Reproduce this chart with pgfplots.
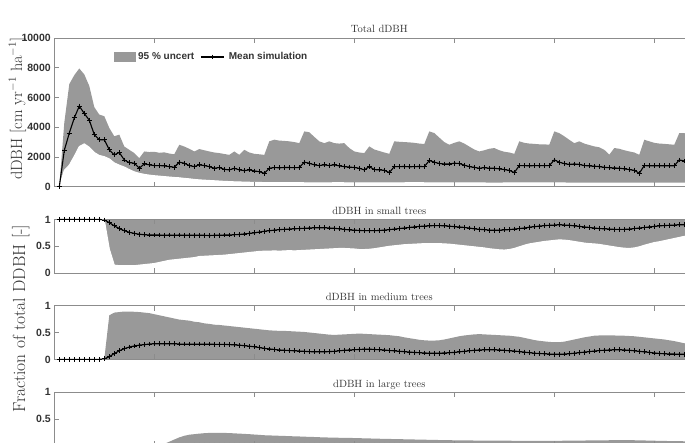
\documentclass[border=0pt]{standalone}
\usepackage{pgfplots}
\pgfplotsset{compat=1.18}
\usepackage{pgfplotstable}
\usepackage{fontspec}
\newfontfamily\lsans{Liberation Sans}
\definecolor{bandgray}{gray}{0.6}
\definecolor{axgray}{gray}{0.55}
\definecolor{txtgray}{gray}{0.2}

% Total dDBH: mean simulation and 95% band
\pgfplotstableread{
x mean lo hi
1 0 0 0
2 2440 1100 4300
3 3610 1450 6900
4 4630 2050 7500
5 5420 2700 7950
6 4920 2880 7550
7 4470 2650 6770
8 3500 2300 5350
9 3160 2100 4850
10 3160 2020 4740
11 2480 1870 3950
12 2140 1600 3390
13 2300 1450 3500
14 1800 1320 2700
15 1620 1150 2480
16 1580 1000 2260
17 1240 900 1920
18 1535 830 2370
19 1470 780 2330
20 1420 740 2350
21 1420 710 2280
22 1400 680 2310
23 1350 650 2230
24 1310 620 2180
25 1650 600 2820
26 1580 560 2700
27 1420 530 2550
28 1350 490 2370
29 1470 460 2530
30 1420 440 2450
31 1350 420 2370
32 1240 400 2300
33 1290 380 2260
34 1170 360 2200
35 1130 345 2140
36 1240 330 2370
37 1130 320 2140
38 1080 310 2480
39 1130 300 2300
40 1060 290 2210
41 1010 285 2180
42 900 280 2140
43 1240 280 3050
44 1290 275 3160
45 1270 275 3100
46 1290 270 3080
47 1290 270 3050
48 1280 270 3000
49 1290 270 2930
50 1650 265 3720
51 1580 265 3660
52 1470 265 3350
53 1420 260 3050
54 1470 260 2930
55 1420 260 3050
56 1470 270 2930
57 1400 270 2900
58 1350 265 2930
59 1320 260 2600
60 1290 255 2370
61 1240 255 2300
62 1130 250 2260
63 1350 250 2710
64 1150 250 2500
65 1130 255 2400
66 1100 260 2300
67 950 260 2210
68 1350 260 3050
69 1350 265 3020
70 1360 265 3000
71 1340 270 2980
72 1350 270 2950
73 1360 270 2900
74 1350 265 2870
75 1760 265 3720
76 1650 260 3610
77 1560 255 3300
78 1530 250 3000
79 1530 250 2820
80 1580 250 2950
81 1560 255 3050
82 1450 260 2900
83 1350 260 2700
84 1300 255 2500
85 1240 250 2370
86 1280 250 2450
87 1240 245 2550
88 1240 245 2600
89 1200 245 2450
90 1150 250 2350
91 1100 250 2300
92 950 250 2210
93 1420 255 3050
94 1420 260 2950
95 1400 260 2900
96 1420 260 2880
97 1410 255 2850
98 1420 255 2850
99 1420 255 2820
100 1800 255 3720
101 1650 250 3600
102 1550 250 3390
103 1500 245 3150
104 1530 245 2930
105 1500 245 3050
106 1420 245 2900
107 1400 245 2800
108 1380 240 2710
109 1355 240 2650
110 1300 240 2480
111 1280 240 2150
112 1260 240 2600
113 1245 240 2550
114 1200 240 2450
115 1150 240 2370
116 1100 240 2300
117 905 235 2145
118 1420 235 3160
119 1400 235 3050
120 1400 235 2950
121 1410 235 2900
122 1400 235 2880
123 1400 235 2850
124 1410 235 2820
125 1800 235 3610
126 1730 235 3610
127 1650 235 3400
128 1600 235 3200
129 1550 235 3000
130 1500 235 2950
}\totdat

% Fractions of total DDBH per size class: mean and band limits
\pgfplotstableread{
x smean slo shi mmean mhi lmean lhi
1 1 1 1 0 0 0 0
2 1 1 1 0 0 0 0
3 1 1 1 0 0 0 0
4 1 1 1 0 0 0 0
5 1 1 1 0 0 0 0
6 1 1 1 0 0 0 0
7 1 1 1 0 0 0 0
8 1 1 1 0 0 0 0
9 1 1 1 0 0 0 0
10 0.99 0.99 1 0.01 0.01 0 0
11 0.94 0.45 1 0.05 0.82 0 0
12 0.88 0.15 1 0.11 0.87 0 0
13 0.83 0.14 1 0.16 0.88 0 0
14 0.79 0.14 1 0.20 0.89 0 0
15 0.76 0.14 1 0.23 0.89 0 0
16 0.74 0.14 1 0.25 0.885 0 0
17 0.725 0.15 1 0.265 0.88 0 0
18 0.715 0.16 1 0.275 0.87 0 0
19 0.71 0.17 1 0.285 0.86 0 0
20 0.71 0.18 1 0.29 0.84 0 0
21 0.71 0.20 1 0.29 0.82 0 0
22 0.705 0.22 1 0.29 0.80 0.003 0.04
23 0.71 0.24 1 0.29 0.78 0.005 0.08
24 0.705 0.25 1 0.29 0.76 0.006 0.12
25 0.71 0.26 1 0.285 0.74 0.008 0.16
26 0.705 0.27 1 0.285 0.73 0.01 0.19
27 0.705 0.28 1 0.285 0.72 0.01 0.21
28 0.705 0.29 1 0.285 0.70 0.012 0.22
29 0.705 0.31 1 0.285 0.69 0.012 0.23
30 0.705 0.315 1 0.285 0.67 0.013 0.238
31 0.70 0.32 1 0.285 0.66 0.014 0.243
32 0.705 0.325 1 0.28 0.645 0.015 0.245
33 0.705 0.33 1 0.28 0.64 0.015 0.245
34 0.71 0.335 1 0.28 0.63 0.015 0.243
35 0.71 0.345 0.99 0.275 0.62 0.015 0.24
36 0.715 0.355 0.99 0.27 0.61 0.015 0.235
37 0.72 0.365 0.99 0.265 0.60 0.015 0.23
38 0.73 0.375 0.99 0.255 0.59 0.015 0.225
39 0.74 0.385 0.985 0.245 0.58 0.015 0.22
40 0.75 0.395 0.985 0.235 0.57 0.015 0.213
41 0.765 0.405 0.985 0.22 0.56 0.015 0.207
42 0.78 0.41 0.985 0.205 0.55 0.015 0.20
43 0.79 0.41 0.985 0.195 0.54 0.015 0.197
44 0.80 0.415 0.985 0.185 0.535 0.015 0.193
45 0.81 0.41 0.985 0.175 0.53 0.015 0.19
46 0.815 0.415 0.985 0.17 0.53 0.015 0.187
47 0.82 0.42 0.985 0.165 0.525 0.015 0.183
48 0.825 0.415 0.985 0.16 0.52 0.015 0.18
49 0.83 0.42 0.985 0.155 0.515 0.015 0.177
50 0.835 0.425 0.985 0.15 0.51 0.015 0.173
51 0.84 0.43 0.985 0.145 0.50 0.015 0.17
52 0.845 0.435 0.985 0.14 0.49 0.015 0.167
53 0.845 0.44 0.985 0.14 0.48 0.015 0.163
54 0.845 0.445 0.985 0.14 0.47 0.015 0.16
55 0.84 0.45 0.985 0.145 0.46 0.015 0.157
56 0.835 0.455 0.99 0.15 0.455 0.015 0.155
57 0.825 0.46 0.99 0.16 0.46 0.015 0.153
58 0.815 0.46 0.99 0.17 0.465 0.015 0.151
59 0.805 0.455 0.99 0.175 0.47 0.015 0.15
60 0.80 0.45 0.99 0.18 0.475 0.015 0.148
61 0.795 0.44 0.99 0.185 0.48 0.015 0.145
62 0.79 0.44 0.99 0.19 0.475 0.015 0.143
63 0.79 0.445 0.99 0.19 0.47 0.015 0.14
64 0.79 0.455 0.99 0.185 0.465 0.015 0.138
65 0.795 0.47 0.99 0.18 0.46 0.015 0.135
66 0.80 0.485 0.99 0.175 0.455 0.015 0.133
67 0.81 0.50 0.99 0.165 0.45 0.015 0.131
68 0.82 0.51 0.99 0.16 0.44 0.015 0.129
69 0.83 0.52 0.99 0.15 0.43 0.015 0.127
70 0.84 0.53 0.99 0.145 0.41 0.015 0.125
71 0.85 0.535 0.99 0.135 0.395 0.012 0.123
72 0.86 0.54 0.99 0.13 0.38 0.01 0.121
73 0.87 0.545 0.99 0.125 0.365 0.01 0.119
74 0.875 0.55 0.99 0.12 0.355 0.01 0.117
75 0.88 0.55 0.99 0.115 0.35 0.01 0.115
76 0.885 0.55 0.99 0.115 0.35 0.01 0.113
77 0.885 0.55 0.99 0.115 0.355 0.01 0.111
78 0.88 0.545 0.99 0.12 0.37 0.01 0.11
79 0.875 0.54 0.99 0.125 0.39 0.01 0.108
80 0.865 0.53 0.99 0.13 0.41 0.01 0.106
81 0.86 0.52 0.99 0.14 0.43 0.01 0.105
82 0.85 0.51 0.99 0.15 0.445 0.01 0.104
83 0.84 0.50 0.99 0.16 0.455 0.01 0.103
84 0.825 0.49 0.99 0.17 0.465 0.01 0.102
85 0.815 0.48 0.99 0.175 0.47 0.01 0.101
86 0.81 0.47 0.99 0.18 0.465 0.01 0.10
87 0.80 0.455 0.99 0.18 0.46 0.01 0.10
88 0.80 0.445 0.99 0.18 0.455 0.01 0.10
89 0.80 0.435 0.99 0.175 0.45 0.01 0.10
90 0.805 0.43 0.99 0.17 0.445 0.01 0.10
91 0.81 0.44 0.99 0.16 0.44 0.01 0.098
92 0.82 0.46 0.99 0.155 0.43 0.01 0.097
93 0.83 0.49 0.99 0.145 0.42 0.01 0.096
94 0.84 0.52 0.99 0.135 0.40 0.01 0.095
95 0.855 0.545 0.99 0.125 0.38 0.01 0.095
96 0.865 0.56 0.99 0.115 0.36 0.01 0.095
97 0.875 0.575 0.99 0.11 0.345 0.01 0.095
98 0.885 0.59 0.99 0.105 0.335 0.01 0.095
99 0.89 0.60 0.99 0.10 0.325 0.01 0.095
100 0.895 0.61 0.99 0.095 0.32 0.01 0.096
101 0.90 0.62 0.99 0.095 0.32 0.01 0.097
102 0.895 0.615 0.99 0.10 0.33 0.01 0.098
103 0.89 0.605 0.99 0.105 0.35 0.01 0.099
104 0.88 0.59 0.99 0.115 0.37 0.01 0.10
105 0.87 0.575 0.99 0.125 0.39 0.01 0.101
106 0.86 0.56 0.99 0.135 0.41 0.01 0.102
107 0.85 0.55 0.99 0.145 0.425 0.01 0.103
108 0.84 0.545 0.99 0.155 0.44 0.01 0.104
109 0.83 0.535 0.99 0.165 0.445 0.01 0.105
110 0.825 0.52 0.99 0.17 0.445 0.01 0.106
111 0.82 0.505 0.99 0.175 0.445 0.01 0.107
112 0.815 0.49 0.99 0.18 0.445 0.01 0.108
113 0.815 0.475 0.99 0.18 0.44 0.01 0.108
114 0.815 0.465 0.99 0.175 0.44 0.01 0.108
115 0.82 0.46 0.99 0.17 0.435 0.01 0.108
116 0.83 0.47 0.99 0.16 0.43 0.01 0.107
117 0.84 0.49 0.99 0.15 0.42 0.01 0.105
118 0.85 0.52 0.99 0.14 0.41 0.01 0.103
119 0.86 0.545 0.99 0.13 0.40 0.01 0.10
120 0.87 0.57 0.99 0.12 0.39 0.01 0.098
121 0.88 0.585 0.99 0.11 0.38 0.01 0.096
122 0.885 0.605 0.99 0.105 0.37 0.01 0.094
123 0.89 0.625 0.99 0.10 0.355 0.01 0.092
124 0.895 0.645 0.99 0.10 0.34 0.01 0.09
125 0.90 0.665 0.99 0.095 0.32 0.01 0.089
126 0.90 0.685 0.99 0.095 0.30 0.01 0.088
127 0.905 0.70 0.99 0.095 0.29 0.01 0.087
128 0.905 0.71 0.99 0.095 0.28 0.01 0.086
129 0.905 0.715 0.99 0.095 0.275 0.01 0.085
130 0.905 0.72 0.99 0.095 0.27 0.01 0.085
}\fracdat

\pgfplotsset{
  panel/.style={
    scale only axis, width=650pt, xmin=0, xmax=130,
    anchor=south west, axis on top,
    xtick={20,40,...,120}, xticklabels={},
    tick align=inside, major tick length=5pt,
    axis line style={axgray, line width=0.8pt},
    tick style={axgray, line width=0.8pt},
    yticklabel style={font=\lsans\bfseries\fontsize{10.5}{12}\selectfont, text=txtgray},
    /pgf/number format/assume math mode=true,
    /pgf/number format/1000 sep={},
    scaled y ticks=false,
    every axis title shift=0pt,
    title style={at={(0.5,1)}, anchor=base, yshift=5pt,
      font=\fontsize{10.5}{12}\selectfont, text=txtgray},
    ylabel style={anchor=base, text=txtgray},
    clip=false,
  },
  fracpanel/.style={panel, height=53.8pt, ymin=0, ymax=1, ytick={0,0.5,1}},
  meanplot/.style={black, line width=1.1pt, mark=+, mark size=2.4pt,
    mark options={line width=0.8pt}},
  bandplot/.style={fill=bandgray, draw=none},
  cutplot/.style={fill=white, draw=white, line width=1pt, forget plot},
  bandleg/.style={legend image code/.code={\fill[bandgray] (0pt,-5pt) rectangle (22pt,5pt);}},
  meanleg/.style={legend image code/.code={\draw[black, line width=1.1pt, mark=+, mark size=2.4pt,
    mark options={line width=0.8pt}, mark repeat=2, mark phase=2]
    plot coordinates {(0pt,0pt) (11.5pt,0pt) (23pt,0pt)};
    \path (25.5pt,0pt);}},
}

\begin{document}
\begin{tikzpicture}
\begin{scope}
\clip (0pt,0pt) rectangle (685pt,442pt);

% Total dDBH: band = area under hi minus area under lo
\begin{axis}[panel, at={(54.3pt,255.3pt)}, height=148.7pt,
  ymin=0, ymax=10000, ytick={0,2000,...,10000},
  title={Total dDBH},
  ylabel={dDBH [cm yr$^{-1}$ ha$^{-1}$]},
  ylabel style={at={(axis description cs:-0.0494,0.524)}, font=\fontsize{16.3}{18}\selectfont},
  legend style={at={(axis description cs:0.0872,0.872)}, anchor=west,
    draw=none, fill=none, legend columns=-1,
    font=\lsans\bfseries\fontsize{10}{12}\selectfont, text=txtgray,
    /tikz/every even column/.append style={column sep=4pt}}]
\addplot[bandplot, bandleg] table[x=x, y=hi] {\totdat} \closedcycle;
\addlegendentry{95 \% uncert}
\addplot[cutplot] table[x=x, y=lo] {\totdat} \closedcycle;
\addplot[meanplot, meanleg] table[x=x, y=mean] {\totdat};
\addlegendentry{Mean simulation}
\end{axis}

% small trees
\begin{axis}[fracpanel, at={(54.3pt,168.8pt)}, title={dDBH in small trees}]
\addplot[bandplot] table[x=x, y=shi] {\fracdat} \closedcycle;
\addplot[cutplot] table[x=x, y=slo] {\fracdat} \closedcycle;
\addplot[meanplot] table[x=x, y=smean] {\fracdat};
\end{axis}

% medium trees
\begin{axis}[fracpanel, at={(54.3pt,82.6pt)}, title={dDBH in medium trees},
  ylabel={Fraction of total DDBH [-]},
  ylabel style={at={(axis description cs:-0.0448,0.76)}, font=\fontsize{17.5}{19}\selectfont}]
\addplot[bandplot] table[x=x, y=mhi] {\fracdat} \closedcycle;
\addplot[meanplot] table[x=x, y=mmean] {\fracdat};
\end{axis}

% large trees
\begin{axis}[fracpanel, at={(54.3pt,-4pt)}, title={dDBH in large trees},
  yticklabels={,0.5,1}]
\addplot[bandplot] table[x=x, y=lhi] {\fracdat} \closedcycle;
\addplot[meanplot] table[x=x, y=lmean] {\fracdat};
\end{axis}
\end{scope}
\pgfresetboundingbox
\useasboundingbox (0pt,0pt) rectangle (685pt,442pt);
\end{tikzpicture}
\end{document}
